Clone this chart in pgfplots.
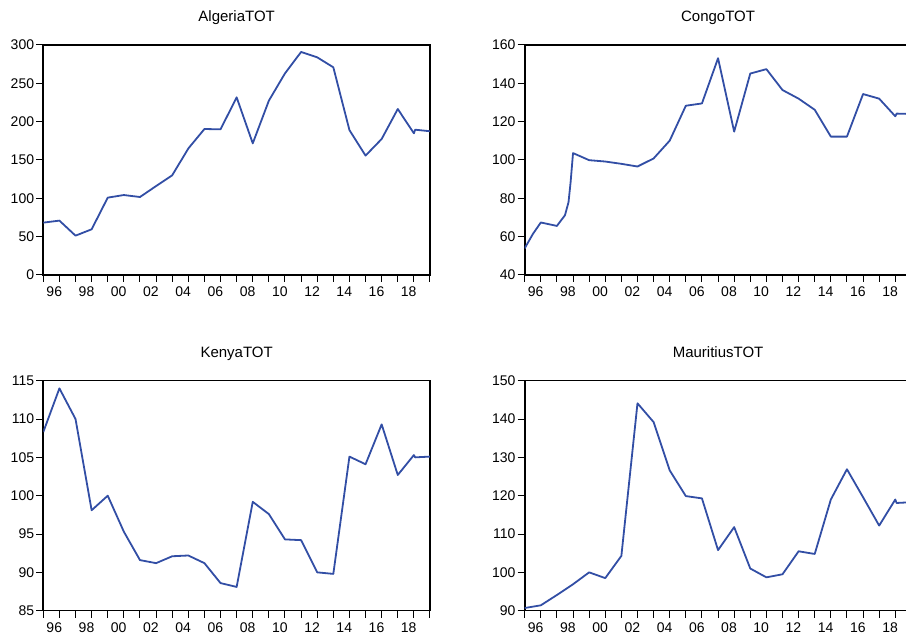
\documentclass[border=0pt]{standalone}
\usepackage{fontspec}
\setmainfont{Liberation Sans}
\usepackage{pgfplots}
\pgfplotsset{compat=1.18}
\definecolor{evblue}{RGB}{50,78,165}
\pgfplotsset{
  evstyle/.style={
    scale only axis, width=386.7pt, height=230pt,
    xmin=1996, xmax=2020,
    xtick={1996,...,2020},
    xticklabels={96,{},98,{},00,{},02,{},04,{},06,{},08,{},10,{},12,{},14,{},16,{},18,{},{}},
    tick align=outside, xtick pos=bottom, ytick pos=left,
    major tick length=7pt,
    every tick/.style={black, line width=1pt},
    axis line style={line width=1.6pt, black},
    ticklabel style={font=\fontsize{14}{16}\selectfont},
    xticklabel style={anchor=north west, xshift=-1.5pt, inner sep=4.5pt},
    yticklabel style={anchor=east, inner sep=2pt},
    /pgf/number format/assume math mode=true,
    title style={font=\fontsize{15}{18}\selectfont, at={(0.5,1)}, anchor=base, yshift=17pt},
  }
}
\begin{document}
\begin{tikzpicture}
\useasboundingbox (0,0) rectangle (906pt,636pt);
\begin{scope}
\clip (0,0) rectangle (906pt,636pt);
% Algeria
\begin{axis}[evstyle, at={(43.3pt,361pt)}, anchor=south west,
  ymin=0, ymax=300, ytick={0,50,...,300}, title={AlgeriaTOT}]
\addplot[evblue, line width=1.8pt, line join=round] coordinates {
(1996,68.3)(1997,70.9)(1998,51.3)(1999,59.6)(2000,100.9)(2001,104.3)(2002,101.7)
(2003,116)(2004,130)(2005,165)(2006,190.4)(2007,190)(2008,231.7)(2009,171.7)
(2010,227.4)(2011,263)(2012,290.9)(2013,283.9)(2014,270.9)(2015,189)(2016,155.7)
(2017,177.4)(2018,216.5)(2019,184.8)(2019.08,189.5)(2020,187.5)};
\end{axis}
% Congo
\begin{axis}[evstyle, at={(524.7pt,361pt)}, anchor=south west,
  ymin=40, ymax=160, ytick={40,60,...,160}, title={CongoTOT}]
\addplot[evblue, line width=1.8pt, line join=round] coordinates {
(1996,53.9)(1996.5,61.3)(1997,67.4)(1998,65.6)(1998.5,71.2)(1998.72,78)(1998.85,88.5)
(1999,103.6)(2000,99.9)(2001,99.2)(2002,98)(2003,96.6)(2004,100.8)(2005,110.1)
(2006,128.3)(2007,129.5)(2008,153.1)(2009,114.8)(2010,145.1)(2011,147.4)(2012,136.5)
(2013,132)(2014,126.2)(2015,112.2)(2016,112.2)(2017,134.4)(2018,132)(2019,122.8)
(2019.08,124.2)(2020,124)};
\end{axis}
% Kenya
\begin{axis}[evstyle, at={(43.3pt,25.3pt)}, anchor=south west,
  ymin=85, ymax=115, ytick={85,90,...,115}, title={KenyaTOT}]
\addplot[evblue, line width=1.8pt, line join=round] coordinates {
(1996,108.3)(1997,114)(1998,110)(1999,98.1)(2000,100)(2001,95.3)(2002,91.6)
(2003,91.2)(2004,92.1)(2005,92.2)(2006,91.2)(2007,88.6)(2008,88.1)(2009,99.2)
(2010,97.6)(2011,94.3)(2012,94.2)(2013,90)(2014,89.8)(2015,105.1)(2016,104.1)
(2017,109.3)(2018,102.7)(2019,105.3)(2019.08,105)(2020,105.1)};
\end{axis}
% Mauritius
\begin{axis}[evstyle, at={(524.7pt,25.3pt)}, anchor=south west,
  ymin=90, ymax=150, ytick={90,100,...,150}, title={MauritiusTOT}]
\addplot[evblue, line width=1.8pt, line join=round] coordinates {
(1996,90.7)(1997,91.4)(1998,94.1)(1999,96.9)(2000,100)(2001,98.5)(2002,104.3)
(2003,144.1)(2004,139.2)(2005,126.6)(2006,119.9)(2007,119.3)(2008,105.8)(2009,111.8)
(2010,101)(2011,98.7)(2012,99.5)(2013,105.5)(2014,104.8)(2015,119)(2016,126.9)
(2017,119.6)(2018,112.2)(2019,119)(2019.08,118.1)(2020,118.3)};
\end{axis}
\end{scope}
\end{tikzpicture}
\end{document}
